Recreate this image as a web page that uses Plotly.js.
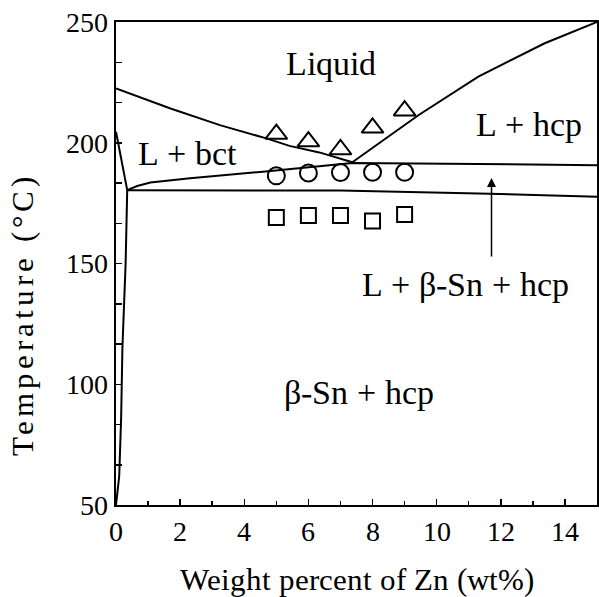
<!DOCTYPE html>
<html>
<head>
<meta charset="utf-8">
<script src="https://cdn.plot.ly/plotly-3.0.1.min.js"></script>
<style>
@font-face{font-family:'SerifLS';src:local('Liberation Serif'),local('LiberationSerif'),local('LiberationSerif-Regular'),local('Times New Roman'),local('DejaVu Serif');}
html,body{margin:0;padding:0;background:#fff;}
g.annotation[data-index="0"] text{letter-spacing:4px;}
</style>
</head>
<body>
<div id="chart" style="width:599px;height:597px;"></div>
<script>
// Phase boundary curves (wt% Zn, °C)
const liqLeftX  = [0, 1.7, 3.24, 4.69, 5.41, 6.34, 7.37];
const liqLeftT  = [222.5, 214.2, 207.3, 201.8, 198.7, 196.0, 191.9];
const liqRightX = [7.37, 9.44, 11.3, 13.37, 15];
const liqRightT = [191.9, 211.5, 227.4, 241.2, 250];
const eutX = [0.35, 0.66, 1.07, 2.31, 4.58, 5.1, 7.37, 11.3, 15];
const eutT = [180.4, 182.1, 183.5, 185.3, 188.0, 188.7, 191.6, 191.2, 190.7];
const lowerX = [0.35, 7.0, 11.3, 15];
const lowerT = [180.3, 180.2, 179.0, 177.6];
const solidusX = [0, 0.35];
const solidusT = [204.6, 180.4];
const solvusX = [0.35, 0.33, 0.3, 0.2, 0.16, 0.1, 0.03, 0];
const solvusT = [180.4, 165, 150, 115, 86, 62, 52, 50];

// Measured points
const expX = [5, 6, 7, 8, 9];
const triT = [203.6, 200.5, 197.2, 206.2, 213.3];
const cirT = [186.3, 187.5, 187.7, 187.8, 187.8];
const sqT  = [169.0, 169.9, 169.9, 167.6, 170.3];

// Region labels
const labelText = ['Liquid', 'L + bct', 'L + hcp', 'L + β-Sn + hcp', 'β-Sn + hcp'];
const labelX = [6.7, 2.23, 12.88, 10.89, 7.58];
const labelT = [233, 195.7, 207.4, 141.1, 96.4];

// Arrow
const arrowX = 11.71, arrowTail = 152.3, arrowHead = 185.4;

const FONT = 'SerifLS, Liberation Serif, serif';
const lineStyle = {color: '#000', width: 2};
function curve(x, y) {
  return {x: x, y: y, mode: 'lines', line: lineStyle, hoverinfo: 'skip', showlegend: false, type: 'scatter'};
}
function pts(y, sym, size) {
  return {x: expX, y: y, mode: 'markers', type: 'scatter', showlegend: false,
    marker: {symbol: sym, size: size, color: '#000', line: {color: '#000', width: 2}}};
}
function buildData() {
  return [
    curve(liqLeftX, liqLeftT), curve(liqRightX, liqRightT), curve(eutX, eutT),
    curve(lowerX, lowerT), curve(solidusX, solidusT), curve(solvusX, solvusT),
    pts(triT, 'triangle-up-open', 19), pts(cirT, 'circle-open', 17), pts(sqT, 'square-open', 15)
  ];
}
function buildLayout() {
  const annotations = [{
    text: 'Temperature (°C)', xref: 'paper', yref: 'paper', x: -0.195, y: 0.393,
    xanchor: 'center', yanchor: 'middle', textangle: -90, showarrow: false,
    font: {family: FONT, size: 31, color: '#000'}
  }];
  labelText.forEach((t, i) => annotations.push({
    text: t, x: labelX[i], y: labelT[i], xref: 'x', yref: 'y', showarrow: false,
    xanchor: 'center', yanchor: 'middle', font: {family: FONT, size: 34, color: '#000'}
  }));
  annotations.push({
    text: '', x: arrowX, y: arrowHead, ax: arrowX, ay: arrowTail, axref: 'x', ayref: 'y',
    xref: 'x', yref: 'y', showarrow: true, arrowhead: 2, arrowsize: 1.2, arrowwidth: 1.5,
    arrowcolor: '#000', standoff: 0
  });
  function axisBase() {
    return {
      showgrid: false, zeroline: false, showline: true, linecolor: '#000', linewidth: 2,
      mirror: true, ticks: 'inside', ticklen: 6, tickwidth: 1.5, tickcolor: '#000',
      tickfont: {family: FONT, size: 28, color: '#000'}
    };
  }
  return {
    width: 599, height: 597,
    margin: {l: 116, r: 2, t: 22, b: 92},
    paper_bgcolor: '#fff', plot_bgcolor: '#fff',
    xaxis: Object.assign(axisBase(), {
      range: [0, 15], dtick: 2, tick0: 0,
      minor: {dtick: 1, ticks: 'inside', ticklen: 4, tickcolor: '#000', tickwidth: 1.5},
      title: {text: 'Weight percent of Zn (wt%)', font: {family: FONT, size: 31, color: '#000'}, standoff: 24}
    }),
    yaxis: Object.assign(axisBase(), {
      range: [50, 250], dtick: 50, tick0: 0,
      minor: {dtick: 50/3, tick0: 0, ticks: 'inside', ticklen: 6, tickcolor: '#000', tickwidth: 1.5}
    }),
    annotations: annotations
  };
}
let started = false;
function start() {
  if (started) return;
  started = true;
  Plotly.newPlot('chart', buildData(), buildLayout(), {displayModeBar: false, staticPlot: true});
}
if (document.fonts && document.fonts.load) {
  Promise.all([
    document.fonts.load('28px SerifLS', 'Liquid β°0123'),
    document.fonts.load('28px "Liberation Serif"', 'Liquid β°0123')
  ]).then(start, start);
  setTimeout(start, 700);
} else {
  start();
}
</script>
</body>
</html>
